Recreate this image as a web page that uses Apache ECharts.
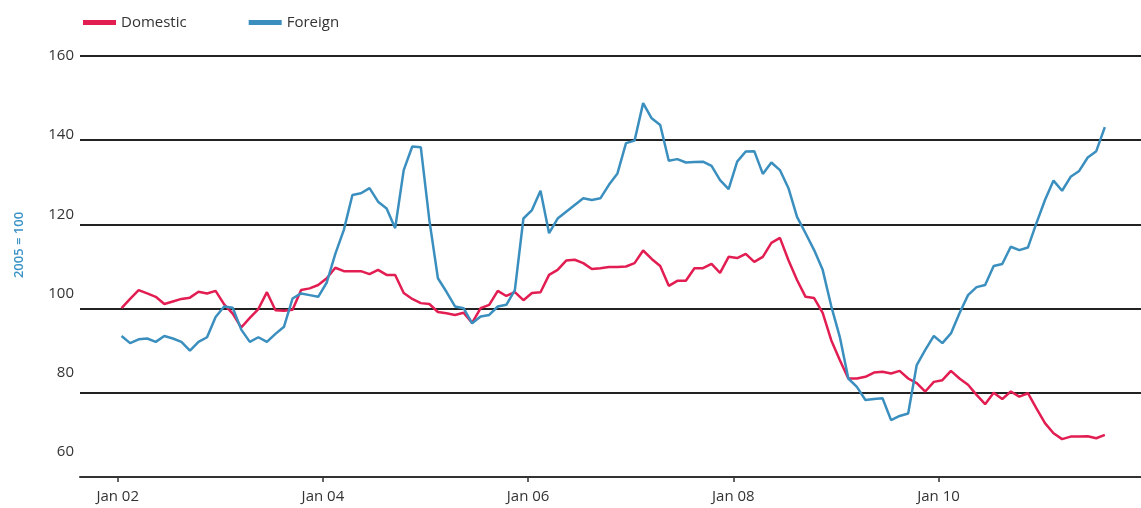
<!DOCTYPE html>
<html>
<head>
<meta charset="utf-8">
<script src="https://cdn.jsdelivr.net/npm/echarts@6/dist/echarts.min.js"></script>
<style>
  html, body { margin: 0; padding: 0; background: #fff; }
  #chart { width: 1141px; height: 508px; }
</style>
</head>
<body>
<div id="chart"></div>
<script>
// monthly index, 2005 = 100, Jan 2002 .. Aug 2011
const startYear = 2002;
const months = [];
for (let i = 0; i < 116; i++) {
    const y = startYear + Math.floor(i / 12);
    const m = (i % 12) + 1;
    months.push(y + '-' + String(m).padStart(2, '0'));
}

const domestic = [
    100.1, 102.3, 104.4, 103.6, 102.8, 101.1, 101.7, 102.3, 102.6, 104.0, 103.6, 104.2,
    101.0, 98.8, 95.5, 97.8, 99.9, 103.9, 99.6, 99.5, 99.7, 104.4, 104.8, 105.6,
    107.2, 109.7, 108.9, 108.9, 108.9, 108.2, 109.2, 108.0, 108.0, 103.7, 102.3, 101.3,
    101.1, 99.2, 98.9, 98.5, 99.0, 96.6, 100.1, 100.9, 104.2, 103.0, 103.9, 102.0,
    103.7, 103.9, 108.0, 109.2, 111.4, 111.6, 110.8, 109.4, 109.6, 109.9, 109.9, 110.0,
    110.8, 113.8, 111.8, 110.1, 105.4, 106.6, 106.6, 109.6, 109.6, 110.6, 108.5, 112.3,
    112.0, 113.0, 111.1, 112.3, 115.6, 116.8, 111.5, 106.8, 102.8, 102.5, 99.0, 92.5,
    87.8, 83.4, 83.4, 83.8, 84.8, 85.0, 84.6, 85.2, 83.4, 82.3, 80.3, 82.6,
    83.0, 85.2, 83.4, 81.9, 79.5, 77.3, 80.0, 78.5, 80.3, 79.1, 79.9, 76.3,
    72.8, 70.4, 69.0, 69.6, 69.6, 69.7, 69.2, 70.0
];

const foreign = [
    93.5, 91.8, 92.7, 92.9, 92.1, 93.5, 92.9, 92.1, 90.0, 92.1, 93.2, 98.0,
    100.5, 100.2, 95.0, 92.1, 93.2, 92.1, 94.0, 95.7, 102.4, 103.6, 103.2, 102.8,
    106.2, 113.0, 118.7, 127.0, 127.4, 128.6, 125.4, 123.8, 119.1, 132.9, 138.5, 138.3,
    121.0, 107.2, 104.0, 100.5, 100.1, 96.5, 98.1, 98.5, 100.5, 100.9, 104.4, 121.4,
    123.4, 128.0, 117.9, 121.4, 123.0, 124.6, 126.2, 125.8, 126.2, 129.4, 132.1, 139.3,
    139.9, 148.8, 145.2, 143.6, 135.1, 135.5, 134.7, 134.8, 134.9, 133.9, 130.5, 128.4,
    134.9, 137.3, 137.4, 132.0, 134.7, 132.9, 128.6, 121.8, 117.9, 113.9, 109.2, 100.6,
    93.3, 83.4, 81.4, 78.3, 78.5, 78.7, 73.5, 74.5, 75.1, 86.6, 90.2, 93.5,
    91.8, 94.1, 98.9, 103.2, 105.1, 105.6, 110.1, 110.6, 114.7, 113.9, 114.5, 120.3,
    125.8, 130.4, 128.0, 131.3, 132.7, 135.9, 137.4, 143.1
];

const xTickLabels = ['Jan 02', 'Jan 04', 'Jan 06', 'Jan 08', 'Jan 10'];
const yTickLabels = [60, 80, 100, 120, 140, 160];

// x is counted in months from Jan 02, each value sits mid-month
const toPairs = (vals) => vals.map((v, i) => [i + 0.45, v]);
const xTicks = xTickLabels.map((_, i) => i * 24);

const chart = echarts.init(document.getElementById('chart'));
const font = 'Open Sans';

chart.setOption({
    animation: false,
    textStyle: { fontFamily: font },
    grid: { left: 80, right: 0, top: 56, bottom: 31, containLabel: false, outerBoundsMode: 'none' },
    legend: {
        left: 78,
        top: 10,
        itemWidth: 33,
        itemHeight: 5,
        itemGap: 62,
        icon: 'rect',
        textStyle: { fontFamily: font, fontSize: 15, color: '#333' },
        data: ['Domestic', 'Foreign']
    },
    xAxis: {
        type: 'value',
        min: -4.41,
        max: 119.68,
        splitLine: { show: false },
        axisLine: { show: true, lineStyle: { color: '#333', width: 2 } },
        axisTick: { show: true, customValues: xTicks, length: 5, lineStyle: { color: '#333', width: 1.5 } },
        axisLabel: {
            customValues: xTicks,
            margin: 12,
            fontSize: 15,
            color: '#333',
            formatter: (v) => xTickLabels[Math.round(v / 24)]
        }
    },
    yAxis: [
        {
            type: 'value',
            position: 'left',
            min: 60,
            max: 160,
            interval: 20,
            axisLine: { show: false },
            axisTick: { show: false },
            axisLabel: { show: false },
            splitLine: { show: true, lineStyle: { color: '#222', width: 2 } }
        },
        {
            // label scale of the original print sits slightly off the grid lines
            type: 'value',
            position: 'left',
            offset: 0,
            min: 53.69,
            max: 160,
            axisLine: { show: false },
            axisTick: { show: false },
            splitLine: { show: false },
            axisLabel: {
                customValues: yTickLabels,
                margin: 6,
                fontSize: 15,
                color: '#333'
            }
        }
    ],
    graphic: [{
        type: 'text',
        x: 19,
        y: 245,
        rotation: Math.PI / 2,
        style: {
            text: '2005 = 100',
            fill: '#3a92c6',
            font: '600 13px "Open Sans"',
            textAlign: 'center',
            textVerticalAlign: 'middle'
        }
    }],
    series: [
        {
            name: 'Domestic',
            type: 'line',
            data: toPairs(domestic),
            showSymbol: false,
            color: '#e21d52',
            lineStyle: { width: 2.5, color: '#e21d52' },
            z: 3
        },
        {
            name: 'Foreign',
            type: 'line',
            data: toPairs(foreign),
            showSymbol: false,
            color: '#3a8fbf',
            lineStyle: { width: 2.5, color: '#3a8fbf' },
            z: 4
        }
    ]
});

window.addEventListener('resize', () => chart.resize());
</script>
</body>
</html>
